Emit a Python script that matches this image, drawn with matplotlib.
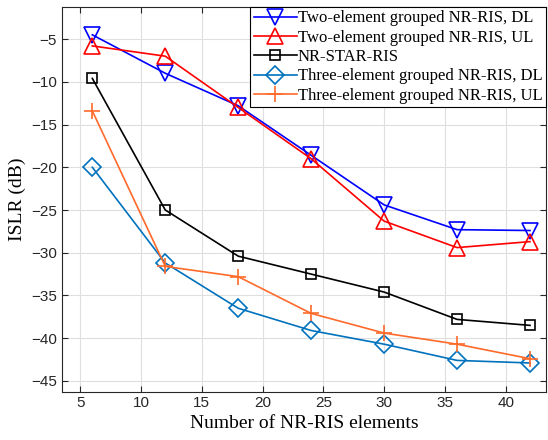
import matplotlib.pyplot as plt

n_elements = [6, 12, 18, 24, 30, 36, 42]
two_dl = [-4.5, -9.0, -12.8, -18.6, -24.4, -27.3, -27.4]
two_ul = [-5.8, -7.0, -13.0, -19.0, -26.3, -29.4, -28.7]
star = [-9.6, -25.0, -30.4, -32.5, -34.6, -37.8, -38.5]
three_dl = [-20.0, -31.2, -36.5, -39.1, -40.7, -42.6, -42.9]
three_ul = [-13.4, -31.6, -32.8, -37.1, -39.4, -40.7, -42.4]

serif = ["Liberation Serif", "DejaVu Serif"]
sans = ["Liberation Sans", "DejaVu Sans"]

fig, ax = plt.subplots(figsize=(5.48, 4.4), dpi=100)
fig.subplots_adjust(left=0.113, right=0.996, bottom=0.11, top=0.984)

ax.plot(n_elements, two_dl, color="#0000FF", marker="v", ms=11, mfc="none", mew=1.2, lw=1.2,
        label="Two-element grouped NR-RIS, DL")
ax.plot(n_elements, two_ul, color="#FF0000", marker="^", ms=11, mfc="none", mew=1.2, lw=1.2,
        label="Two-element grouped NR-RIS, UL")
ax.plot(n_elements, star, color="black", marker="s", ms=7.5, mfc="none", mew=1.2, lw=1.2,
        label="NR-STAR-RIS")
ax.plot(n_elements, three_dl, color="#0072BD", marker="D", ms=9, mfc="none", mew=1.2, lw=1.2,
        label="Three-element grouped NR-RIS, DL")
ax.plot(n_elements, three_ul, color="#FF6A2A", marker="+", ms=12, mfc="none", mew=1.2, lw=1.2,
        label="Three-element grouped NR-RIS, UL")

ax.set_xlim(3.5, 43.3)
ax.set_ylim(-46.25, -1.25)
ax.set_xticks(range(5, 45, 5))
ax.set_yticks(range(-45, 0, 5))
ax.grid(True, color="#DFDFDF", lw=0.8)
ax.set_axisbelow(True)
ax.tick_params(direction="in", top=True, right=True, length=4, labelsize=11, colors="#262626")
for lab in ax.get_xticklabels() + ax.get_yticklabels():
    lab.set_family(sans)
for s in ax.spines.values():
    s.set_color("#262626")
    s.set_linewidth(0.8)

ax.set_xlabel("Number of NR-RIS elements", family=serif, fontsize=14, labelpad=3)
ax.set_ylabel("ISLR (dB)", family=serif, fontsize=14)

leg = ax.legend(loc="upper right", prop={"family": serif, "size": 12}, fancybox=False,
                framealpha=1, edgecolor="black", borderaxespad=0, borderpad=0.2,
                labelspacing=0.2, handlelength=2.6, handletextpad=0.05)
leg.get_frame().set_linewidth(0.8)

fig.savefig("out.png", dpi=100)
